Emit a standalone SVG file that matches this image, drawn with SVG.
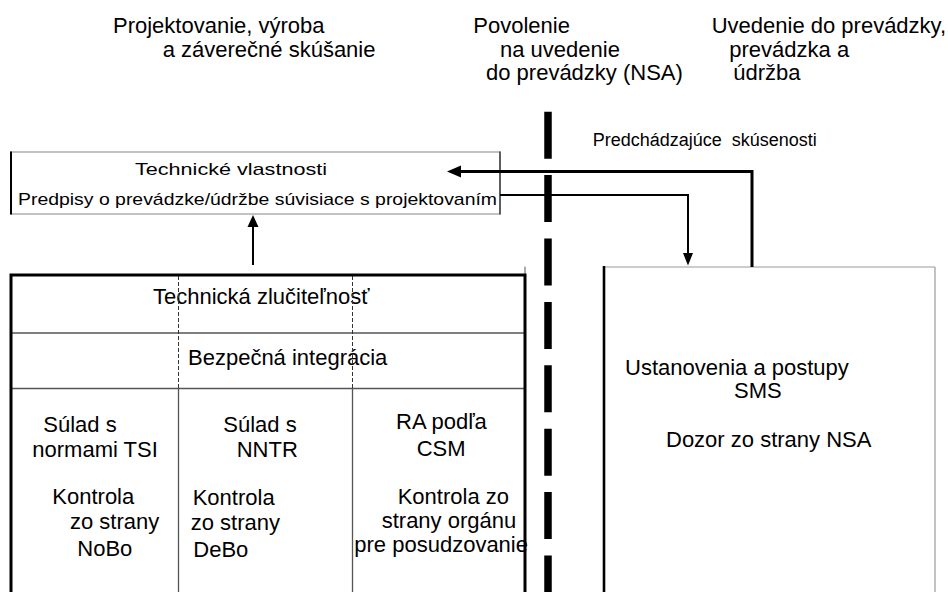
<svg xmlns="http://www.w3.org/2000/svg" width="948" height="592" viewBox="0 0 948 592">
  <defs>
    <style>
      text { font-family: "Liberation Sans", Arial, sans-serif; fill: #000; white-space: pre; }
      .h { font-size: 22px; }
      .s { font-size: 17px; }
      .thin { stroke: #555; stroke-width: 1.3; fill: none; }
      .gray { stroke: #999; stroke-width: 1.2; fill: none; }
      .thick { stroke: #000; stroke-width: 3; fill: none; }
      .dash { stroke: #333; stroke-width: 1; stroke-dasharray: 4 2; fill: none; }
      .conn { stroke: #000; fill: none; }
    </style>
  </defs>
  <rect width="948" height="592" fill="#fff"/>

  <g id="phase-headers">
    <text class="h" x="113" y="33">Projektovanie, výroba</text>
    <text class="h" x="162.7" y="56.5">a záverečné skúšanie</text>
    <text class="h" x="473.3" y="33">Povolenie</text>
    <text class="h" x="500" y="56.5">na uvedenie</text>
    <text class="h" x="486" y="80">do prevádzky (NSA)</text>
    <text class="h" x="711.7" y="33">Uvedenie do prevádzky,</text>
    <text class="h" x="729.3" y="56.5">prevádzka a</text>
    <text class="h" x="733.3" y="80">údržba</text>
  </g>

  <g id="nsa-divider">
    <line x1="548" y1="111.7" x2="548" y2="592" stroke="#000" stroke-width="7.5" stroke-dasharray="47 16.4"/>
  </g>

  <g id="label-experience">
    <text x="592.7" y="145.7" style="font-size:18px" xml:space="preserve">Predchádzajúce  skúsenosti</text>
  </g>

  <g id="node-technical-properties">
    <rect x="11" y="152" width="489" height="62" class="gray"/>
    <line x1="11" y1="151.5" x2="11" y2="214.5" stroke="#000" stroke-width="2"/>
    <line x1="500" y1="151.5" x2="500" y2="214.5" stroke="#444" stroke-width="1.6"/>
    <text class="s" x="135" y="174.5" textLength="192" lengthAdjust="spacingAndGlyphs">Technické vlastnosti</text>
    <text class="s" x="18" y="204.5" textLength="479" lengthAdjust="spacingAndGlyphs">Predpisy o prevádzke/údržbe súvisiace s projektovaním</text>
  </g>

  <g id="node-design-phase">
    <text class="h" x="153" y="304">Technická zlučiteľnosť</text>
    <text class="h" x="188" y="365">Bezpečná integrácia</text>

    <text class="h" x="43.3" y="432">Súlad s</text>
    <text class="h" x="32.3" y="456.7">normami TSI</text>
    <text class="h" x="52.3" y="504">Kontrola</text>
    <text class="h" x="70" y="528.5">zo strany</text>
    <text class="h" x="77.3" y="556">NoBo</text>

    <text class="h" x="223.3" y="432">Súlad s</text>
    <text class="h" x="236.7" y="456.7">NNTR</text>
    <text class="h" x="192.7" y="504.5">Kontrola</text>
    <text class="h" x="190.7" y="529.5">zo strany</text>
    <text class="h" x="193.3" y="557">DeBo</text>

    <text class="h" x="396" y="429">RA podľa</text>
    <text class="h" x="416.7" y="455.7">CSM</text>
    <text class="h" x="397.7" y="504">Kontrola zo</text>
    <text class="h" x="381.7" y="528">strany orgánu</text>
    <text class="h" x="354.3" y="551.5">pre posudzovanie</text>

    <line x1="11" y1="333" x2="525" y2="333" class="thin"/>
    <line x1="11" y1="388.5" x2="525" y2="388.5" class="thin"/>
    <line x1="178.5" y1="276" x2="178.5" y2="388.5" class="dash"/>
    <line x1="352.5" y1="276" x2="352.5" y2="388.5" class="dash"/>
    <line x1="178.5" y1="388.5" x2="178.5" y2="592" class="thin"/>
    <line x1="352.5" y1="388.5" x2="352.5" y2="592" class="thin"/>
    <line x1="525" y1="266.7" x2="525" y2="276" stroke="#555" stroke-width="1"/>
    <path d="M11 592 V275 H525 V592" class="thick"/>
  </g>

  <g id="node-sms">
    <line x1="604" y1="267" x2="935" y2="267" class="gray"/>
    <line x1="935" y1="267" x2="935" y2="592" class="gray"/>
    <line x1="604" y1="266" x2="604" y2="592" stroke="#000" stroke-width="2.6"/>
    <text class="h" x="625" y="375">Ustanovenia a postupy</text>
    <text class="h" x="734" y="398">SMS</text>
    <text class="h" x="666" y="447">Dozor zo strany NSA</text>
  </g>

  <g id="connectors">
    <!-- design phase up to technical properties -->
    <line x1="253" y1="265" x2="253" y2="226" class="conn" stroke-width="2"/>
    <polygon points="253,215 247.5,227 258.5,227" fill="#000"/>
    <!-- experience feedback from SMS to technical properties -->
    <polyline points="752,267 752,171.5 459,171.5" class="conn" stroke-width="3"/>
    <polygon points="447,171.5 461,165.5 461,177.5" fill="#000"/>
    <!-- design rules to SMS -->
    <polyline points="500,195 688,195 688,254" class="conn" stroke-width="2"/>
    <polygon points="688,265.5 683,253 693,253" fill="#000"/>
  </g>
</svg>
